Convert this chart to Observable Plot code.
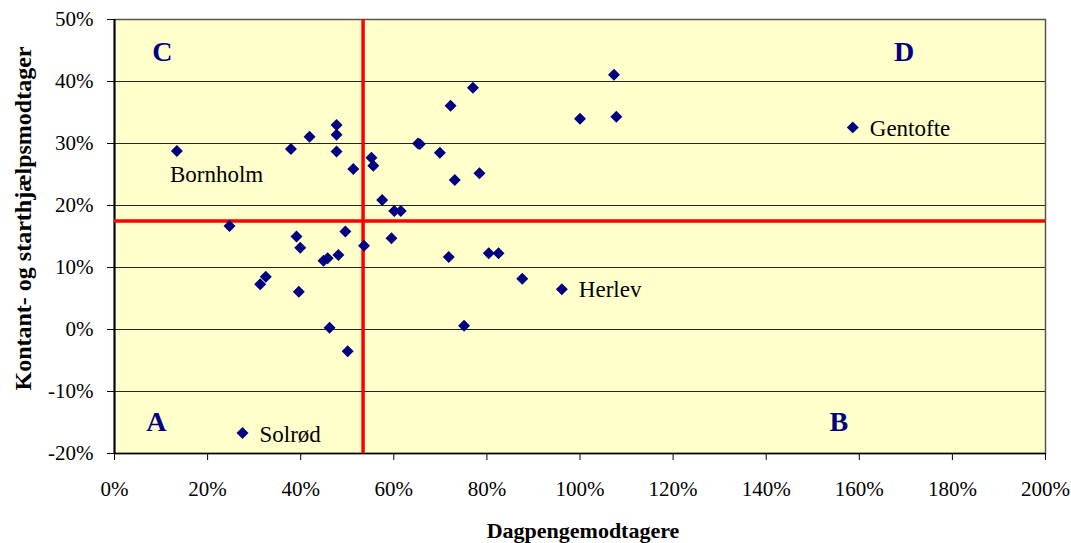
<!DOCTYPE html>
<html><head><meta charset="utf-8">
<script src="https://cdn.jsdelivr.net/npm/d3@7"></script>
<script src="https://cdn.jsdelivr.net/npm/@observablehq/plot@0.6"></script>
<style>
body{margin:0;background:#fff}
#chart svg{display:block}
#chart svg text{font-family:"Liberation Serif","Times New Roman",serif !important;font-variant:normal !important}
</style>
</head><body><div id="chart"></div>
<script>
// Dagpengemodtagere (x, %) and Kontant- og starthjælpsmodtager (y, %) per kommune
const dagpenge = [13.4, 37.9, 41.9, 47.7, 47.7, 47.7, 51.3, 55.2, 55.6, 65.2, 65.6, 69.9, 72.2, 77.0, 73.1, 78.4, 57.5, 60.1, 61.5,
  24.7, 39.1, 39.9, 49.6, 53.6, 59.5, 44.9, 45.8, 48.1, 71.8, 31.3, 32.5, 39.6, 46.2, 50.1, 75.1, 27.5,
  107.3, 100.0, 107.8, 80.4, 82.5, 87.6, 96.1, 158.6];
const kontant = [28.8, 29.1, 31.1, 33.0, 31.4, 28.7, 25.9, 27.7, 26.4, 30.0, 29.9, 28.5, 36.1, 39.0, 24.1, 25.2, 20.9, 19.1, 19.1,
  16.7, 15.0, 13.2, 15.8, 13.5, 14.7, 11.1, 11.5, 12.0, 11.7, 7.3, 8.5, 6.1, 0.3, -3.5, 0.6, -16.7,
  41.1, 34.0, 34.3, 12.3, 12.3, 8.2, 6.5, 32.6];
const kommune = ["Bornholm", "", "", "", "", "", "", "", "", "", "", "", "", "", "", "", "", "", "",
  "", "", "", "", "", "", "", "", "", "", "", "", "", "", "", "", "Solrød",
  "", "", "", "", "", "", "Herlev", "Gentofte"];
// Averages dividing the quadrants
const xAverage = 53.4;
const yAverage = 17.5;
// Quadrant letters and their anchor values (data units)
const quadrantLetters = ["C", "D", "A", "B"];
const quadrantX = [10.3, 169.6, 9.0, 155.6];
const quadrantY = [43.3, 43.3, -16.3, -16.3];
// Tick values
const xTicks = [0, 20, 40, 60, 80, 100, 120, 140, 160, 180, 200];
const yTicks = [-20, -10, 0, 10, 20, 30, 40, 50];
const xTitle = "Dagpengemodtagere";
const yTitle = "Kontant- og starthjælpsmodtager";

const points = dagpenge.map((x, i) => ({x, y: kontant[i], name: kommune[i]}));
const named = points.filter(d => d.name);
const labelOffsets = {Bornholm: [-7, 31], "Solrød": [17, 8.5], Herlev: [17, 8], Gentofte: [17, 8.3]};
const quads = quadrantLetters.map((t, i) => ({t, x: quadrantX[i], y: quadrantY[i]}));

const serif = "Liberation Serif, Times New Roman, serif";

const chart = Plot.plot({
  width: 1071,
  height: 543,
  marginLeft: 114,
  marginRight: 26,
  marginTop: 19,
  marginBottom: 90,
  style: {fontFamily: serif, fontSize: "21px", color: "#000", background: "#fff", overflow: "visible"},
  x: {domain: [0, 200]},
  y: {domain: [-20, 50]},
  marks: [
    Plot.frame({fill: "#FFFFCC", stroke: null}),
    Plot.gridY(yTicks, {stroke: "#000", strokeOpacity: 0.85, strokeWidth: 1}),
    Plot.frame({stroke: "#555", strokeWidth: 1.5}),
    Plot.ruleY([-20], {stroke: "#000", strokeWidth: 1.5}),
    Plot.ruleX([0], {stroke: "#000", strokeWidth: 2}),
    Plot.ruleX([xAverage], {stroke: "#FF0000", strokeWidth: 3.5}),
    Plot.ruleY([yAverage], {stroke: "#FF0000", strokeWidth: 3.5}),
    Plot.dot(points, {x: "x", y: "y", symbol: "diamond2", r: 5.4, fill: "#000080", stroke: null}),
    ...named.map(d => Plot.text([d], {x: "x", y: "y", text: "name", textAnchor: "start", lineAnchor: "bottom",
      dx: labelOffsets[d.name][0], dy: labelOffsets[d.name][1], fontSize: 23, fill: "#000"})),
    Plot.text(quads, {x: "x", y: "y", text: "t", lineAnchor: "bottom", fontSize: 28, fontWeight: "bold", fill: "#000080"}),
    Plot.axisX(xTicks, {tickFormat: d => d + "%", tickSize: 7, tickPadding: 21, label: null, fontSize: 21}),
    Plot.axisY(yTicks, {tickFormat: d => d + "%", tickSize: 7, tickPadding: 14, label: null, fontSize: 21}),
    Plot.text([xTitle], {frameAnchor: "bottom", textAnchor: "middle", lineAnchor: "bottom", dx: 3, dy: 84, fontSize: 22, fontWeight: "bold"}),
    Plot.text([yTitle], {frameAnchor: "left", textAnchor: "middle", lineAnchor: "middle", rotate: -90, dx: -91, dy: -18, fontSize: 24, fontWeight: "bold"})
  ]
});
document.getElementById("chart").append(chart);
</script>
</body></html>
